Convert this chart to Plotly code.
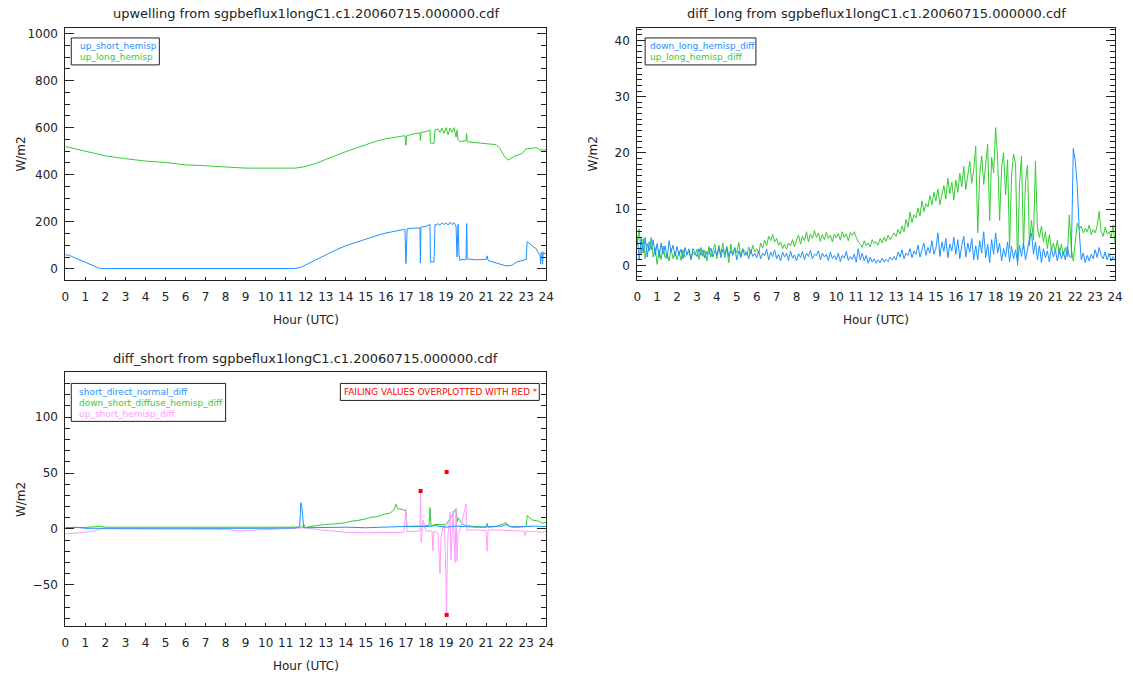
import plotly.graph_objects as go

W, H = 1133, 675
BLUE = "#1E90FF"
GREEN = "#33CC33"
PINK = "#FF9CFF"
RED = "#FF0000"
INK = "#222222"
FONT = "DejaVu Sans"

HOUR_TICKS = list(range(0, 25))
HOUR_LABELS = [str(h) for h in HOUR_TICKS]

# ---------------- panel 1: upwelling ----------------
up_short_t = [0, 0.2, 0.6, 1.0, 1.4,
              1.7, 2.0, 6.0, 11.5, 11.8,
              12.2, 12.6, 13.0, 13.5, 14.0,
              14.5, 15.0, 15.5, 16.0, 16.5,
              16.95, 17.0, 17.03, 17.06, 17.3,
              17.7, 17.72, 17.75, 17.8, 18.0,
              18.2, 18.22, 18.25, 18.4, 18.45,
              18.5, 18.6, 18.7, 18.8, 18.9,
              19.0, 19.1, 19.2, 19.3, 19.4,
              19.5, 19.55, 19.6, 19.65, 19.7,
              19.8, 20.0, 20.03, 20.06, 20.2,
              20.5, 21.0, 21.05, 21.1, 21.5,
              21.8, 22.0, 22.3, 22.5, 22.8,
              23.0, 23.05, 23.3, 23.5, 23.6,
              23.7, 23.72, 23.75, 23.8, 23.82,
              23.85, 23.9, 24.0]
up_short_v = [60, 57, 42, 27, 12,
              2, 1, 1, 1, 8,
              25, 42, 60, 80, 98,
              113, 128, 140, 152, 162,
              168, 22, 168, 170, 172,
              174, 25, 176, 178, 180,
              188, 28, 30, 28, 188,
              186, 192, 185, 195, 188,
              196, 186, 198, 188, 196,
              180, 50, 190, 60, 35,
              40, 38, 192, 42, 40,
              38, 40, 55, 35, 25,
              18, 12, 15, 28, 35,
              40, 115, 100, 85, 70,
              55, 20, 70, 68, 20,
              72, 65, 65]

up_long_t = [0, 0.5, 1.0, 1.5, 2.0,
             3.0, 4.0, 5.0, 6.0, 7.0,
             8.0, 9.0, 10.0, 11.0, 11.5,
             12.0, 12.5, 13.0, 13.5, 14.0,
             14.5, 15.0, 15.5, 16.0, 16.5,
             16.95, 17.0, 17.03, 17.3, 17.7,
             17.72, 17.75, 18.0, 18.2, 18.22,
             18.4, 18.45, 18.6, 18.7, 18.8,
             18.9, 19.0, 19.1, 19.2, 19.3,
             19.4, 19.5, 19.55, 19.6, 19.7,
             20.0, 20.03, 20.06, 20.5, 21.0,
             21.5, 21.7, 21.9, 22.1, 22.4,
             22.8, 23.0, 23.5, 23.7, 24.0]
up_long_v = [520, 510, 498, 488, 480,
             468, 458, 452, 442, 438,
             434, 428, 428, 426, 428,
             435, 448, 465, 483, 498,
             513, 528, 542, 553, 560,
             566, 525, 565, 572, 578,
             545, 580, 583, 590, 535,
             533, 590, 595, 580, 598,
             575, 600, 570, 598, 580,
             600, 560, 590, 548, 540,
             545, 575, 540, 535, 532,
             528, 510, 480, 462, 478,
             490, 510, 515, 505, 505]

# ---------------- panel 2: diff_long (6-minute samples) ----------------
diff_long_t = [i / 10 for i in range(241)]
down_long_diff = [
    5.2, 1.0, 4.8, 2.2, 5.0, 1.5, 4.2, 2.8, 4.6, 1.8,   # 0
    3.9, 1.4, 4.0, 2.0, 3.5, 1.2, 4.4, 2.4, 3.6, 1.6,   # 1
    3.4, 1.8, 2.9, 1.2, 3.2, 1.9, 2.6, 1.0, 3.0, 2.2,   # 2
    1.6, 3.0, 1.8, 2.8, 1.3, 2.5, 2.0, 3.1, 1.5, 2.7,   # 3
    1.8, 3.2, 1.4, 2.9, 2.0, 3.4, 1.6, 2.6, 1.9, 3.0,   # 4
    1.0, 2.6, 1.5, 2.9, 1.8, 2.4, 1.2, 2.8, 1.6, 2.2,   # 5
    1.4, 2.6, 1.2, 2.2, 1.7, 2.9, 1.0, 2.4, 1.6, 2.8,   # 6
    1.2, 2.0, 0.8, 2.4, 1.5, 2.2, 0.9, 2.6, 1.3, 1.9,   # 7
    0.8, 2.1, 1.4, 2.5, 1.0, 2.2, 1.6, 2.7, 1.2, 2.0,   # 8
    1.8, 2.6, 1.0, 2.2, 1.5, 2.0, 0.9, 2.4, 1.2, 1.8,   # 9
    1.0, 2.2, 0.7, 1.8, 1.3, 2.5, 0.9, 1.6, 1.1, 2.0,   # 10
    0.6, 3.0, 1.0, 2.2, 0.8, 1.8, 0.4, 1.5, 0.6, 1.2,   # 11
    0.4, 1.0, 0.5, 1.3, 0.6, 1.1, 0.7, 1.5, 1.0, 1.6,   # 12
    1.0, 2.4, 1.5, 2.8, 1.2, 2.2, 1.8, 3.0, 1.4, 2.6,   # 13
    2.0, 3.6, 1.5, 2.8, 4.0, 1.8, 3.2, 2.2, 4.4, 2.0,   # 14
    3.0, 5.8, 1.6, 4.2, 2.5, 4.8, 1.4, 3.8, 2.6, 5.0,   # 15
    2.0, 4.6, 1.2, 3.6, 5.2, 1.5, 4.0, 2.4, 4.8, 1.0,   # 16
    3.5, 1.0, 4.4, 2.2, 6.0, 1.4, 3.8, 0.5, 4.6, 2.0,   # 17
    5.8, 2.2, 4.0, 0.8, 3.0, 1.5, 4.2, 0.6, 3.4, 1.2,   # 18
    2.8, 0.5, 3.6, 1.6, 4.0, 1.0, 3.0, 4.8, 5.8, 2.0,   # 19
    4.2, 1.0, 3.5, 0.5, 3.0, 1.4, 2.6, 0.6, 3.2, 1.5,   # 20
    2.8, 0.8, 3.0, 1.2, 2.5, 1.0, 3.4, 1.6, 1.4, 20.8,  # 21
    18.5, 14.2, 6.0, 1.0, 2.2, 0.5, 1.8, 0.8, 2.0, 1.2, # 22
    2.8, 1.4, 3.2, 1.8, 1.2, 2.4, 1.0, 2.2, 0.8, 1.6,   # 23
    1.2]
up_long_diff = [
    3.5, 6.5, 2.0, 4.8, 1.2, 3.9, 2.5, 5.0, 1.5, 3.2,   # 0
    0.2, 2.8, 1.0, 3.5, 1.4, 2.2, 0.8, 3.0, 1.2, 2.5,   # 1
    1.0, 2.6, 0.9, 2.8, 1.5, 2.0, 3.0, 1.2, 2.4, 1.8,   # 2
    2.9, 1.1, 3.2, 1.6, 2.7, 0.8, 3.4, 1.5, 2.6, 3.8,   # 3
    1.2, 3.6, 2.0, 4.0, 1.4, 3.0, 0.5, 3.8, 1.8, 3.2,   # 4
    2.2, 4.1, 1.4, 3.0, 2.5, 1.8, 3.3, 2.0, 3.6, 2.4,   # 5
    3.0, 2.2, 4.0, 3.1, 4.5, 3.5, 5.2, 4.4, 5.5, 4.2,   # 6
    4.8, 3.6, 4.2, 3.0, 3.8, 2.9, 4.0, 3.5, 4.6, 3.3,   # 7
    4.5, 5.4, 3.8, 5.2, 4.4, 6.0, 4.2, 5.6, 4.8, 6.2,   # 8
    5.0, 5.8, 4.3, 5.5, 4.6, 5.9, 4.8, 5.4, 4.2, 5.6,   # 9
    4.9, 5.7, 4.5, 6.0, 5.0, 5.6, 4.4, 5.9, 5.3, 6.0,   # 10
    5.0, 4.2, 3.8, 3.2, 4.4, 3.5, 4.0, 3.3, 4.6, 3.9,   # 11
    4.2, 3.6, 4.8, 4.0, 5.0, 4.3, 5.4, 4.6, 5.2, 5.8,   # 12
    5.2, 6.4, 5.6, 7.0, 6.0, 8.2, 6.8, 9.5, 7.6, 9.0,   # 13
    8.5, 10.2, 8.8, 11.5, 9.6, 11.0, 10.4, 12.4, 10.8, 13.0,  # 14
    11.5, 13.6, 10.8, 12.6, 14.2, 11.8, 15.5, 12.8, 14.8, 11.6,  # 15
    15.2, 13.0, 16.4, 14.0, 17.6, 13.5, 16.0, 18.5, 14.6, 17.0,  # 16
    21.2, 5.8, 16.0, 19.5, 14.4, 18.6, 21.5, 8.0, 19.2, 16.5,    # 17
    24.5, 19.0, 8.0, 17.5, 20.0, 12.5, 18.8, 3.0, 16.0, 19.8,    # 18
    18.0, 0.0, 14.5, 19.5, 3.0, 15.0, 17.8, 3.5, 8.0, 4.5,       # 19
    18.5, 6.5, 5.0, 7.0, 4.2, 6.0, 3.0, 5.5, 2.8, 4.0,           # 20
    2.5, 4.5, 2.0, 3.8, 1.8, 3.2, 1.5, 9.0, 3.0, 0.8,            # 21
    4.5, 7.5, 6.5, 7.0, 5.8, 6.6, 6.0, 7.2, 5.5, 6.4,            # 22
    5.8, 7.0, 9.6, 6.0, 5.2, 6.8, 5.6, 6.0, 5.0, 7.2,            # 23
    4.0]

# ---------------- panel 3: diff_short ----------------
sdn_t = [0, 0.5, 1.0, 1.5, 2.0,
         4.0, 6.0, 8.0, 10.0, 11.5,
         11.7, 11.75, 11.8, 11.85, 11.9,
         12.0, 13.0, 14.0, 15.0, 16.0,
         17.0, 17.5, 18.0, 18.5, 19.0,
         19.5, 20.0, 20.5, 21.0, 21.5,
         21.8, 22.0, 22.2, 22.5, 23.0,
         23.5, 24.0]
sdn_v = [1.0, 1.5, 0.5, 0.8, 0.5,
         0.5, 0.8, 0.5, 0.5, 0.8,
         2.0, 23.5, 20.0, 5.0, 1.0,
         1.0, 1.2, 1.5, 1.0, 1.5,
         1.8, 2.5, 2.0, 2.8, 1.5,
         2.5, 2.0, 1.5, 1.8, 2.0,
         2.5, 4.0, 2.0, 1.8, 2.0,
         2.5, 2.0]

dsd_t = [0, 1.0, 1.5, 1.7, 2.0,
         4.0, 6.0, 8.0, 10.0, 11.5,
         11.85, 11.9, 12.0, 12.2, 12.6,
         13.0, 13.5, 14.0, 14.3, 14.6,
         15.0, 15.3, 15.6, 16.0, 16.2,
         16.4, 16.5, 16.6, 16.8, 17.0,
         17.05, 17.5, 18.15, 18.2, 18.25,
         18.5, 19.0, 19.5, 19.55, 19.6,
         19.8, 20.0, 20.5, 21.0, 21.05,
         21.1, 21.5, 22.0, 22.1, 22.3,
         22.5, 23.0, 23.05, 23.3, 23.6,
         23.8, 24.0]
dsd_v = [1.0, 1.2, 2.0, 2.5, 1.5,
         1.5, 1.2, 1.0, 1.0, 1.0,
         1.5, 4.0, 1.0, 2.0, 3.0,
         4.0, 4.5, 5.5, 7.0, 7.5,
         9.0, 10.5, 11.0, 13.5, 14.0,
         17.0, 22.0, 18.0, 17.5, 16.0,
         2.0, 2.0, 3.0, 19.0, 3.0,
         4.0, 3.5, 18.0, 6.0, 10.0,
         4.5, 3.0, 2.0, 1.5, 5.0,
         1.5, 2.0, 5.5, 3.0, 1.5,
         1.5, 2.0, 12.0, 8.0, 7.0,
         5.0, 6.0]

ush_t = [0, 0.5, 1.0, 1.5, 1.8,
         2.0, 4.0, 6.0, 8.0, 8.8,
         9.0, 9.5, 10.0, 11.0, 11.5,
         12.0, 12.5, 13.0, 13.5, 14.0,
         15.0, 16.0, 16.9, 17.0, 17.05,
         17.1, 17.5, 17.7, 17.73, 17.76,
         17.8, 17.85, 18.0, 18.3, 18.35,
         18.4, 18.6, 18.7, 18.75, 18.8,
         18.9, 18.95, 19.0, 19.03, 19.06,
         19.1, 19.2, 19.25, 19.3, 19.35,
         19.45, 19.5, 19.55, 19.6, 19.7,
         20.0, 20.05, 20.1, 20.5, 21.0,
         21.05, 21.1, 21.5, 22.0, 22.5,
         22.9, 22.95, 23.0, 23.5, 23.8,
         24.0]
ush_v = [-4.5, -4.0, -3.0, -1.5, 0.0,
         0.0, 0.0, 0.0, -0.5, -2.0,
         -1.5, -1.0, -0.5, 0.0, 0.5,
         1.0, -0.5, -1.5, -2.5, -3.0,
         -3.5, -3.5, -3.0, 18.0, -3.0,
         -2.5, -2.5, -2.0, 34.0, -12.0,
         -3.0, 8.0, -2.0, -2.0, -20.0,
         -2.0, -4.0, -40.0, -8.0, -2.0,
         5.0, -10.0, -47.0, -77.0, -30.0,
         -5.0, 15.0, -28.0, -5.0, 16.0,
         -30.0, 17.0, -29.0, -3.0, -1.0,
         22.0, -2.0, -1.0, -1.0, -1.5,
         -20.0, -1.0, -1.0, -1.5, -1.5,
         -2.0, -6.0, -2.0, -2.5, -3.0,
         -2.0]

fail_t = [17.73, 19.03, 19.03]
fail_v = [34.0, 51.0, -77.0]

TITLE_SUFFIX = " from sgpbeflux1longC1.c1.20060715.000000.cdf"

# ---------------- figure ----------------
def px(x):
    return x / W


def py(y):
    return 1 - y / H


fig = go.Figure()

def line(x, y, color, xa, ya):
    fig.add_trace(go.Scatter(x=x, y=y, mode="lines", xaxis=xa, yaxis=ya,
                             line=dict(color=color, width=1), hoverinfo="skip",
                             showlegend=False))

line(up_short_t, up_short_v, BLUE, "x", "y")
line(up_long_t, up_long_v, GREEN, "x", "y")
line(diff_long_t, up_long_diff, GREEN, "x2", "y2")
line(diff_long_t, down_long_diff, BLUE, "x2", "y2")
line(dsd_t, dsd_v, GREEN, "x3", "y3")
line(ush_t, ush_v, PINK, "x3", "y3")
line(sdn_t, sdn_v, BLUE, "x3", "y3")
fig.add_trace(go.Scatter(x=fail_t, y=fail_v, mode="markers", xaxis="x3", yaxis="y3",
                         marker=dict(color=RED, size=4, symbol="square", line=dict(width=0)),
                         hoverinfo="skip", showlegend=False))

tickfont = dict(family=FONT, size=12, color=INK)

def xaxis(x0, x1, y0, y1, anchor):
    return dict(domain=[px(x0), px(x1)], anchor=anchor, range=[0, 24],
                tickmode="array", tickvals=HOUR_TICKS, ticktext=HOUR_LABELS,
                ticks="inside", ticklen=3, tickcolor=INK, tickwidth=1,
                showline=True, linecolor=INK, linewidth=1, mirror=True,
                showgrid=False, zeroline=False, tickfont=tickfont,
                ticklabelstandoff=6, fixedrange=True)


def yaxis(y0, y1, anchor, rng, dtick, minor):
    return dict(domain=[py(y1), py(y0)], anchor=anchor, range=rng,
                tick0=0, dtick=dtick, ticks="inside", ticklen=9, tickcolor=INK,
                tickwidth=1, showline=True, linecolor=INK, linewidth=1,
                mirror="ticks", showgrid=False, zeroline=False, tickfont=tickfont,
                minor=dict(dtick=minor, tick0=0, ticks="inside", ticklen=5,
                           tickcolor=INK, showgrid=False),
                ticklabelstandoff=4, fixedrange=True)

P1 = (62, 548, 27, 279)
P2 = (640, 1123, 27, 279)
P3 = (62, 548, 372, 626)

fig.update_layout(
    width=W, height=H, margin=dict(l=0, r=0, t=0, b=0),
    paper_bgcolor="white", plot_bgcolor="white", showlegend=False,
    xaxis=xaxis(P1[0], P1[1], P1[2], P1[3], "y"),
    yaxis=yaxis(P1[2], P1[3], "x", [-46, 1024], 200, 50),
    xaxis2=xaxis(P2[0], P2[1], P2[2], P2[3], "y2"),
    yaxis2=yaxis(P2[2], P2[3], "x2", [-2.5, 42.2], 10, 1),
    xaxis3=xaxis(P3[0], P3[1], P3[2], P3[3], "y3"),
    yaxis3=yaxis(P3[2], P3[3], "x3", [-87, 140], 50, 10),
)

ann = []
shapes = []

def text(x, y, s, color=INK, size=13, xanchor="center", angle=0):
    ann.append(dict(x=px(x), y=py(y), xref="paper", yref="paper", text=s,
                    showarrow=False, xanchor=xanchor, yanchor="middle",
                    textangle=angle, font=dict(family=FONT, size=size, color=color)))

for (x0, x1, y0, y1), name in [(P1, "upwelling"), (P2, "diff_long"), (P3, "diff_short")]:
    cx = (x0 + x1) / 2
    text(cx, y0 - 14, name + TITLE_SUFFIX, size=13)
    text(cx, y1 + 40, "Hour (UTC)", size=12)
    text(x0 - 45, (y0 + y1) / 2, "W/m2", size=12, angle=-90)

def box(x0, y0, x1, y1):
    shapes.append(dict(type="rect", xref="paper", yref="paper",
                       x0=px(x0), x1=px(x1), y0=py(y1), y1=py(y0),
                       line=dict(color=INK, width=1), fillcolor="white", layer="above"))

LEG = 9
box(68, 37, 157, 64)
text(75, 45.5, "up_short_hemisp", BLUE, LEG, "left")
text(75, 56.5, "up_long_hemisp", GREEN, LEG, "left")

box(648, 37, 760, 64)
text(651, 45.5, "down_long_hemisp_diff", BLUE, LEG, "left")
text(651, 56.5, "up_long_hemisp_diff", GREEN, LEG, "left")

box(68, 383, 224, 421)
text(74, 391.5, "short_direct_normal_diff", BLUE, LEG, "left")
text(74, 402.5, "down_short_diffuse_hemisp_diff", GREEN, LEG, "left")
text(74, 413.5, "up_short_hemisp_diff", PINK, LEG, "left")

box(340, 383, 541, 400)
text(342, 391.5, "FAILING VALUES OVERPLOTTED WITH RED *", RED, 8.9, "left")

fig.update_layout(annotations=ann, shapes=shapes)

fig.write_html("out.html")
